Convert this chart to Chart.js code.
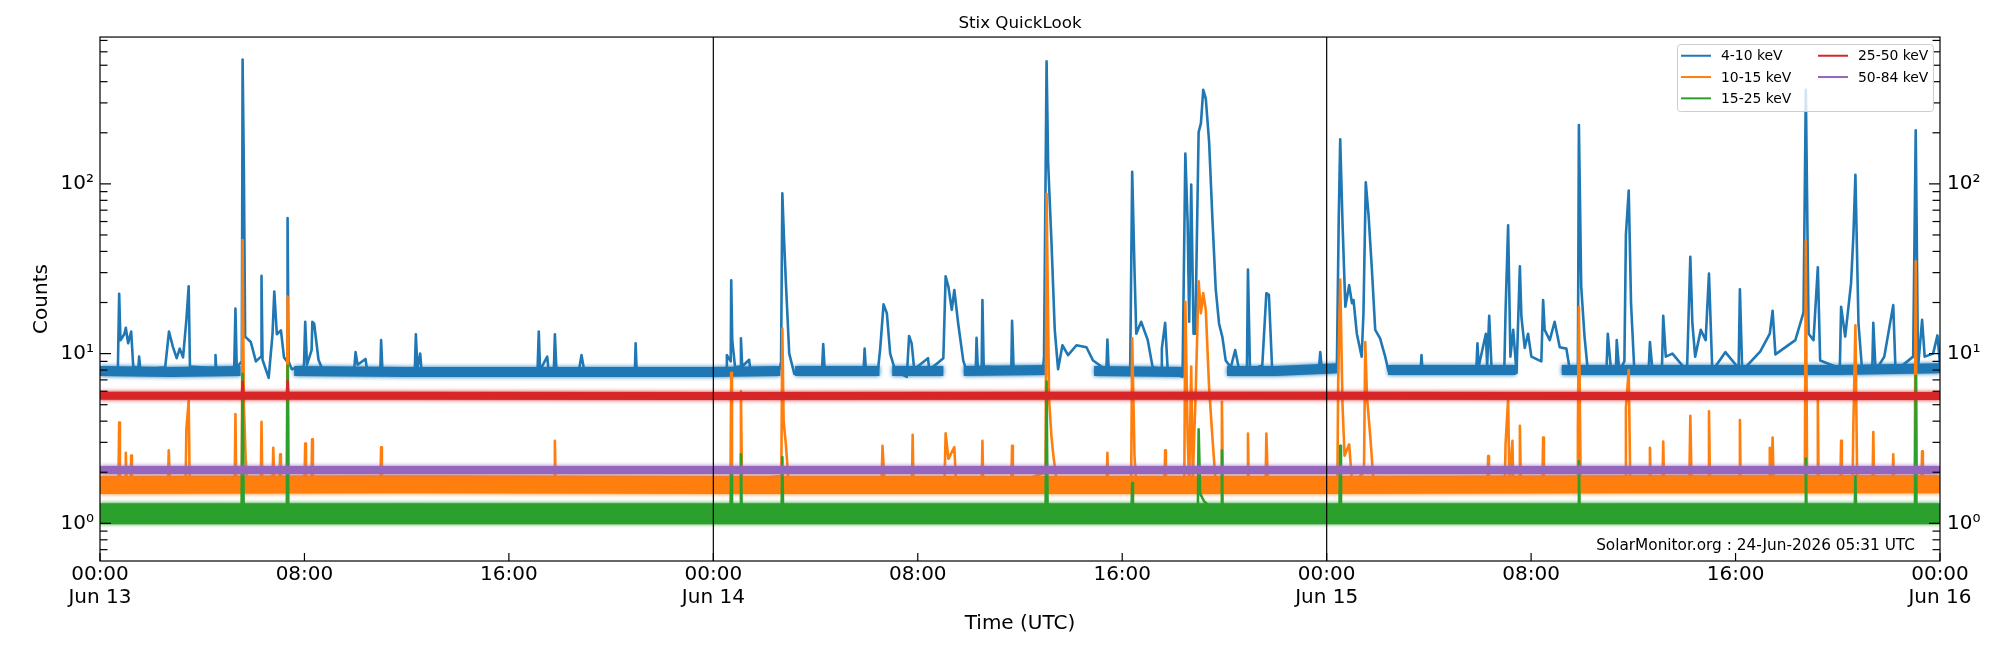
<!DOCTYPE html>
<html>
<head>
<meta charset="utf-8">
<title>Stix QuickLook</title>
<script src="https://cdn.jsdelivr.net/npm/chart.js@4.4.1/dist/chart.umd.min.js"></script>
<style>
  html, body { margin: 0; padding: 0; background: #fff; }
  #wrap { position: relative; width: 2000px; height: 650px; }
</style>
</head>
<body>
<div id="wrap"><canvas id="c" width="2000" height="650"></canvas></div>
<script>
// Stix QuickLook — counts per energy band, Jun 13 00:00 to Jun 16 00:00 (hours from start)

// axis ticks / labels
const xTickHours = [0, 8, 16, 24, 32, 40, 48, 56, 64, 72];
const xTickLabels = [['00:00', 'Jun 13'], '08:00', '16:00', ['00:00', 'Jun 14'], '08:00', '16:00',
                     ['00:00', 'Jun 15'], '08:00', '16:00', ['00:00', 'Jun 16']];
const dayLines = [24, 48];
const yTickValues = [1, 10, 100];
const yTickLabels = ['10\u2070', '10\u00B9', '10\u00B2'];
const yMin = 0.633, yMax = 733;

// 4-10 keV
const hours410 = [
  0.00, 0.70, 0.75, 0.80, 0.95, 1.01, 1.10, 1.22, 1.30, 1.50, 1.53, 1.58,
  2.55, 2.70, 2.85, 3.00, 3.12, 3.25, 3.38, 3.47, 3.52, 4.50, 4.52, 4.55,
  5.25, 5.30, 5.35, 5.55, 5.58, 5.63, 5.68, 5.90, 6.10, 6.30, 6.32, 6.36,
  6.60, 6.75, 6.82, 6.92, 7.08, 7.20, 7.32, 7.34, 7.38, 7.50, 7.98, 8.03,
  8.10, 8.28, 8.31, 8.38, 8.55, 8.70, 9.95, 10.00, 10.08, 10.39, 10.45,
  10.97, 11.00, 11.05, 12.32, 12.36, 12.42, 12.53, 12.58,
  17.12, 17.17, 17.22, 17.50, 17.55, 17.76, 17.80, 17.86, 18.75, 18.84, 18.95,
  20.93, 20.96, 21.00, 24.50, 24.53, 24.68, 24.70, 24.74, 24.85, 25.05, 25.08, 25.13,
  25.40, 25.45, 26.60, 26.65, 26.70, 26.76, 26.84, 26.97, 27.17, 28.25, 28.30, 28.36,
  29.88, 29.92, 29.97, 30.45, 30.53, 30.66, 30.79, 30.92, 31.12, 31.57, 31.66, 31.76,
  31.86, 32.40, 32.45, 33.00, 33.09, 33.20, 33.33, 33.43, 33.58, 33.78, 33.90,
  34.27, 34.30, 34.35, 34.50, 34.53, 34.58, 35.66, 35.69, 35.75,
  36.90, 36.94, 37.04, 37.10, 37.23, 37.36, 37.49, 37.66, 37.88, 38.21, 38.60, 38.86,
  39.38, 39.42, 39.47, 40.31, 40.39, 40.48, 40.55, 40.74, 41.00, 41.19,
  41.52, 41.55, 41.68, 41.78, 42.36, 42.47, 42.56, 42.62, 42.70, 42.79, 42.86,
  42.99, 43.08, 43.17, 43.27, 43.40, 43.53, 43.66, 43.79, 43.92, 44.05, 44.25, 44.42, 44.57,
  44.88, 44.92, 45.00, 45.48, 45.64, 45.74, 45.87, 47.70, 47.75, 47.80,
  48.40, 48.47, 48.53, 48.62, 48.73, 48.88, 48.99, 49.05, 49.18, 49.37, 49.44,
  49.53, 49.64, 49.77, 49.90, 50.09, 50.29, 50.42, 51.68, 51.71, 51.75,
  53.86, 53.90, 53.95, 54.23, 54.28, 54.36, 54.45, 54.95, 55.00, 55.10, 55.19,
  55.30, 55.43, 55.56, 55.62, 55.75, 55.88, 56.01, 56.40, 56.47, 56.53, 56.73,
  56.92, 57.12, 57.38, 57.51, 57.83, 57.87, 57.96, 58.09, 58.22,
  58.95, 59.00, 59.13, 59.32, 59.35, 59.45, 59.65, 59.71, 59.82, 59.91, 60.04,
  60.60, 60.65, 60.75, 61.12, 61.17, 61.27, 61.53, 62.10, 62.23, 62.31, 62.42,
  62.64, 62.83, 62.96, 63.09, 63.60, 64.12, 64.17, 64.26, 64.97, 65.34, 65.45, 65.56,
  66.34, 66.66, 66.75, 66.86, 67.05, 67.22, 67.31, 68.08, 68.13, 68.29, 68.52,
  68.61, 68.69, 68.81, 68.94, 69.35, 69.39, 69.48, 69.82, 70.17, 70.26,
  70.95, 71.05, 71.14, 71.30, 71.40, 71.73, 71.90, 72.00
];
const counts410 = [
  8.0, 8.2, 22.5, 12.0, 13.0, 14.2, 11.5, 13.5, 8.4, 8.2, 9.6, 8.0,
  8.3, 13.5, 11.0, 9.4, 10.7, 9.5, 15.8, 24.9, 8.4, 8.2, 9.8, 8.0,
  8.1, 18.4, 8.3, 9.0, 540, 120, 12.6, 11.7, 9.0, 9.6, 28.7, 9.2,
  7.2, 13.0, 23.2, 13.0, 13.7, 9.5, 9.0, 63, 9.0, 8.1, 8.4, 15.4,
  8.6, 10.5, 15.4, 15.0, 9.2, 8.1, 8.2, 10.2, 8.6, 9.3, 8.0,
  8.1, 12.0, 8.0, 8.1, 13.0, 8.2, 10.0, 8.0,
  7.9, 13.5, 8.0, 9.6, 8.0, 8.1, 13.0, 8.0, 8.1, 9.8, 7.9,
  8.0, 11.5, 7.9, 8.0, 9.8, 9.0, 27.0, 12.0, 8.3, 8.4, 12.3, 8.4,
  9.2, 8.0, 8.1, 9.0, 88, 50, 26, 10, 7.6, 7.9, 11.4, 7.9,
  8.0, 10.7, 8.0, 8.2, 10.7, 19.5, 17.3, 10.0, 7.9, 7.3, 12.7, 11.5,
  8.1, 9.4, 8.0, 9.4, 28.5, 24.7, 18.1, 23.7, 15.1, 9.1, 8.0,
  8.1, 12.4, 8.2, 8.3, 20.7, 8.4, 8.2, 15.6, 8.1,
  8.0, 9.6, 528, 134, 46, 13.8, 8.1, 11.2, 9.8, 11.2, 10.9, 9.1,
  8.0, 12.1, 8.0, 7.8, 118, 31.3, 13.1, 15.4, 12.0, 8.3,
  8.1, 10.7, 15.2, 8.0, 7.3, 151, 59, 15.4, 99, 13.1, 13.1,
  202, 227, 358, 318, 177, 62, 23.8, 15.0, 12.5, 9.1, 8.3, 10.5, 8.1,
  8.1, 31.3, 8.0, 8.5, 22.7, 22.2, 7.9, 8.3, 10.2, 8.4,
  8.4, 59, 183, 59, 18.9, 25.3, 19.8, 20.7, 13.1, 9.6, 17.3,
  102, 65, 31.3, 13.8, 12.3, 9.6, 7.9, 8.1, 9.8, 8.0,
  8.3, 11.5, 8.4, 13.1, 8.4, 16.7, 8.3, 8.0, 17.7, 57.1, 9.6,
  13.8, 7.7, 32.7, 16.5, 10.8, 13.1, 9.6, 9.0, 20.7, 13.8, 12.0,
  15.4, 10.9, 10.7, 8.1, 7.9, 222, 24.9, 12.6, 7.9,
  8.1, 13.1, 7.9, 8.1, 12.0, 7.9, 9.0, 50.5, 91.3, 19.8, 7.9,
  8.1, 11.7, 7.9, 8.2, 16.7, 9.6, 10.0, 7.9, 37.2, 15.1, 9.6,
  13.8, 12.0, 29.6, 7.9, 10.2, 8.2, 23.9, 7.9, 10.3, 13.1, 17.9, 9.9,
  12.0, 17.5, 358, 13.1, 12.0, 32.3, 9.1, 8.2, 18.9, 12.6, 26,
  49.2, 113, 15.1, 8.4, 8.1, 15.2, 7.9, 9.6, 19.3, 7.9,
  9.6, 207, 8.3, 15.8, 9.6, 10.0, 12.8, 8.6
];

// 10-15 keV
const hours1015 = [
  0, 0.72, 0.75, 0.78, 0.99, 1.01, 1.04, 1.20, 1.22, 1.25, 2.66, 2.69, 2.74,
  3.35, 3.38, 3.47, 3.51, 5.27, 5.30, 5.33, 5.55, 5.58, 5.63, 5.70, 5.76,
  6.29, 6.32, 6.35, 6.75, 6.78, 6.82, 7.02, 7.05, 7.08, 7.31, 7.34, 7.38,
  8.00, 8.03, 8.06, 8.27, 8.30, 8.33, 10.97, 11.00, 11.03, 17.77, 17.80, 17.83,
  24.67, 24.70, 24.73, 25.05, 25.08, 25.12, 26.66, 26.70, 26.75, 26.84, 26.95,
  30.58, 30.62, 30.70, 31.77, 31.80, 31.83, 33.05, 33.09, 33.20, 33.43, 33.50,
  34.50, 34.53, 34.56, 35.66, 35.69, 35.72, 37.00, 37.04, 37.14, 37.23, 37.30, 37.45,
  39.39, 39.42, 39.45, 40.35, 40.39, 40.48, 40.55, 41.65, 41.68, 41.71,
  42.43, 42.47, 42.56, 42.62, 42.70, 42.76, 42.88, 42.99, 43.08, 43.17, 43.27, 43.40, 43.53, 43.66,
  43.87, 43.90, 43.94, 44.89, 44.92, 44.95, 45.61, 45.64, 45.70,
  48.42, 48.45, 48.53, 48.62, 48.70, 48.88, 49.00, 49.46, 49.51, 49.58, 49.71, 49.84,
  54.29, 54.32, 54.35, 54.97, 55.00, 55.10, 55.15, 55.27, 55.30, 55.53, 55.56, 55.60,
  56.44, 56.47, 56.50, 57.80, 57.83, 57.87, 57.94, 59.68, 59.71, 59.82, 59.88,
  60.62, 60.65, 60.68, 61.14, 61.17, 61.20, 62.19, 62.23, 62.28, 62.93, 62.96, 63.00,
  64.14, 64.17, 64.20, 65.31, 65.34, 65.40, 65.45, 65.49, 66.71, 66.75, 66.80,
  67.19, 67.22, 67.25, 68.10, 68.13, 68.16, 68.58, 68.61, 68.69, 68.76,
  69.36, 69.39, 69.42, 70.14, 70.17, 70.20, 71.01, 71.05, 71.09, 71.27, 71.30, 71.33, 72
];
const counts1015 = [
  1.68, 1.68, 3.93, 1.68, 1.7, 2.6, 1.7, 1.7, 2.51, 1.7, 1.7, 2.69, 1.7,
  1.7, 3.58, 5.28, 1.7, 1.7, 4.4, 1.7, 1.9, 46.7, 5.0, 2.4, 1.7,
  1.7, 3.96, 1.7, 1.7, 2.79, 1.7, 1.7, 2.55, 1.7, 1.8, 21.7, 1.8,
  1.7, 2.95, 1.7, 1.7, 3.13, 1.7, 1.7, 2.81, 1.7, 1.7, 3.06, 1.7,
  1.8, 7.7, 1.8, 1.8, 6.0, 1.8, 1.9, 14.1, 4.0, 2.9, 1.7,
  1.7, 2.86, 1.7, 1.7, 3.32, 1.7, 1.8, 3.39, 2.4, 2.81, 1.7,
  1.7, 3.06, 1.7, 1.7, 2.86, 1.7, 2.0, 87.3, 5.3, 3.27, 2.55, 1.7,
  1.7, 2.6, 1.7, 1.8, 12.3, 2.5, 1.7, 1.7, 2.69, 1.7,
  1.8, 20.2, 3.2, 1.7, 8.4, 1.8, 6.3, 26.7, 17.3, 22.7, 18.1, 6.3, 3.2, 1.7,
  1.7, 5.2, 1.7, 1.7, 3.38, 1.7, 1.7, 3.38, 1.7,
  1.8, 6.8, 27.3, 5.0, 2.5, 2.92, 1.7, 2.0, 11.7, 5.5, 3.2, 1.7,
  1.7, 2.49, 1.7, 1.7, 2.92, 5.4, 1.7, 3.06, 1.7, 1.7, 3.75, 1.7,
  1.7, 3.2, 1.7, 1.8, 3.6, 18.8, 1.7, 1.8, 4.8, 8.0, 1.7,
  1.7, 2.79, 1.7, 1.7, 3.03, 1.7, 1.7, 4.3, 1.7, 1.7, 4.57, 1.7,
  1.7, 4.06, 1.7, 1.7, 2.79, 1.8, 3.2, 1.7, 1.8, 46, 1.7,
  1.7, 5.4, 1.7, 1.7, 3.06, 1.7, 1.8, 3.8, 14.7, 1.7,
  1.7, 3.45, 1.7, 1.7, 2.55, 1.7, 1.8, 35.0, 1.7, 1.7, 2.66, 1.7, 1.7
];

// 15-25 keV
const hours1525 = [0, 5.54, 5.58, 5.62, 5.70, 7.31, 7.34, 7.37, 24.67, 24.70, 24.73,
  25.05, 25.08, 25.11, 26.67, 26.70, 26.73, 37.00, 37.04, 37.08, 40.36, 40.39, 40.42,
  42.96, 42.99, 43.05, 43.20, 43.45, 43.70, 43.87, 43.90, 43.93, 48.50, 48.53, 48.56,
  57.84, 57.87, 57.90, 66.72, 66.75, 66.78, 68.66, 68.69, 68.72, 71.02, 71.05, 71.08, 72];
const counts1525 = [1.14, 1.2, 7.6, 1.3, 1.14, 1.2, 8.5, 1.14, 1.14, 2.1, 1.14,
  1.14, 2.55, 1.14, 1.14, 2.46, 1.14, 1.2, 6.85, 1.2, 1.14, 1.73, 1.14,
  1.2, 3.58, 1.5, 1.35, 1.25, 1.14, 1.14, 2.69, 1.14, 1.14, 2.86, 1.14,
  1.14, 2.32, 1.14, 1.14, 2.41, 1.14, 1.14, 1.89, 1.14, 1.2, 7.4, 1.14, 1.14];

// 25-50 keV
const hours2550 = [0, 5.55, 5.58, 5.62, 7.31, 7.34, 7.37, 72];
const counts2550 = [5.65, 5.65, 6.8, 5.65, 5.65, 6.9, 5.65, 5.6];

// 50-84 keV
const hours5084 = [0, 72];
const counts5084 = [2.06, 2.06];

// background noise level of each band (drawn as a thick, soft-edged stroke)
const noiseHours = [0, 12, 24, 36, 48, 60, 72];
const noise1015 = [1.68, 1.70, 1.68, 1.68, 1.68, 1.70, 1.70];
const noise1525 = [1.14, 1.14, 1.14, 1.14, 1.14, 1.14, 1.14];
const noise2550 = [5.65, 5.65, 5.62, 5.65, 5.65, 5.62, 5.62];
const noise5084 = [2.06, 2.06, 2.06, 2.06, 2.06, 2.06, 2.06];
// 4-10 keV quiet level, broken (null) where the flares rise above it
const noiseHours410 = [0, 2.75, 5.5, 6.5, 7.6, 12, 18, 24, 26.62, 26.9, 27.2, 30.5, 30.75, 31.0,
  33.0, 33.4, 33.8, 37.0, 38.0, 38.9, 42.4, 43.2, 44.1, 46, 48.45, 49.4, 50.4, 53, 55.4,
  56.3, 57.2, 60, 64, 68, 72];
const noise410 = [7.9, 7.8, 7.9, null, 7.9, 7.8, 7.8, 7.8, 7.9, null, 7.9, 7.9, null, 7.9,
  7.9, null, 7.9, 8.0, null, 7.9, 7.8, null, 7.9, 7.9, 8.2, null, 8.0, 8.0, 8.0,
  null, 8.0, 8.0, 8.0, 8.0, 8.2];

[[hours410, counts410], [hours1015, counts1015], [hours1525, counts1525], [noiseHours410, noise410]]
  .forEach(([h, c], i) => { if (h.length !== c.length) throw new Error('length mismatch ' + i + ': ' + h.length + ' vs ' + c.length); });

const toPoints = (hours, counts) => hours.map((h, i) => ({ x: h, y: counts[i] }));

function signal(label, hours, counts, color, order) {
  return { label, data: toPoints(hours, counts), borderColor: color, backgroundColor: color,
    borderWidth: 2.6, borderJoinStyle: 'round', pointRadius: 0, tension: 0, order };
}
function noise(hours, level, color, width, order) {
  return { label: '', noise: true, data: toPoints(hours, level), borderColor: color,
    borderWidth: width, borderCapStyle: 'butt', pointRadius: 0, spanGaps: false, order };
}

const C_BLUE = '#1f77b4', C_ORANGE = '#ff7f0e', C_GREEN = '#2ca02c', C_RED = '#d62728', C_PURPLE = '#9467bd';

// frame, inward ticks and day separators (matplotlib look)
const axesDecor = {
  id: 'axesDecor',
  beforeDatasetDraw(chart, args) {
    const ds = chart.data.datasets[args.index];
    if (ds.noise) {
      // soft edge so the noise bands look ragged rather than ruled
      chart.ctx.save();
      chart.ctx.shadowColor = ds.borderColor;
      chart.ctx.shadowBlur = 4;
    }
  },
  afterDatasetDraw(chart, args) {
    if (chart.data.datasets[args.index].noise) chart.ctx.restore();
  },
  afterDatasetsDraw(chart) {
    const { ctx, chartArea: a, scales: { x, y } } = chart;
    ctx.save();
    ctx.strokeStyle = '#000';
    ctx.lineWidth = 1.2;
    const seg = (x1, y1, x2, y2) => { ctx.beginPath(); ctx.moveTo(x1, y1); ctx.lineTo(x2, y2); ctx.stroke(); };
    dayLines.forEach(h => { const px = x.getPixelForValue(h); seg(px, a.top, px, a.bottom); });
    xTickHours.forEach(h => { const px = x.getPixelForValue(h); seg(px, a.bottom, px, a.bottom - 8); });
    for (let d = 0.1; d <= 1000; d *= 10) {
      for (let m = 1; m < 10; m++) {
        const v = m * d;
        if (v < yMin || v > yMax) continue;
        const py = y.getPixelForValue(v);
        const len = m === 1 ? 11 : 7.5;
        seg(a.left, py, a.left + len, py);
        seg(a.right, py, a.right - len, py);
      }
    }
    ctx.strokeRect(a.left, a.top, a.right - a.left, a.bottom - a.top);
    ctx.restore();
  },
  afterDraw(chart) {
    const { ctx, chartArea: a } = chart;
    ctx.save();
    // legend, two columns filled top-down like matplotlib ncol=2
    const items = chart.data.datasets.filter(d => !d.noise);
    const bx = a.right - 263, by = a.top + 7, bw = 256, bh = 67;
    ctx.fillStyle = 'rgba(255,255,255,0.8)';
    ctx.strokeStyle = '#cccccc';
    ctx.lineWidth = 1;
    ctx.beginPath();
    ctx.roundRect(bx + 0.5, by + 0.5, bw, bh, 3);
    ctx.fill();
    ctx.stroke();
    ctx.font = '13.9px "DejaVu Sans"';
    ctx.textBaseline = 'middle';
    ctx.textAlign = 'left';
    items.forEach((d, i) => {
      const col = Math.floor(i / 3), row = i % 3;
      const hx = bx + 4 + col * 137, ty = by + 11.7 + row * 21.3;
      ctx.strokeStyle = d.borderColor;
      ctx.lineWidth = 2;
      ctx.beginPath(); ctx.moveTo(hx, ty); ctx.lineTo(hx + 30, ty); ctx.stroke();
      ctx.fillStyle = '#000';
      ctx.fillText(d.label, hx + 40, ty + 1);
    });
    // footer stamp
    ctx.font = '15.3px "DejaVu Sans"';
    ctx.textAlign = 'right';
    ctx.textBaseline = 'alphabetic';
    ctx.fillStyle = '#000';
    ctx.fillText('SolarMonitor.org : 24-Jun-2026 05:31 UTC', a.right - 25, a.bottom - 11);
    ctx.restore();
  }
};

Chart.defaults.font.family = '"DejaVu Sans", sans-serif';
Chart.defaults.color = '#000';

const yAxis = (position, width, pad, showTitle) => ({
  type: 'logarithmic', position, min: yMin, max: yMax,
  afterBuildTicks: s => { s.ticks = yTickValues.map(v => ({ value: v, major: true })); },
  afterFit: s => { s.width = width; },
  ticks: { callback: (v, i) => yTickLabels[i], font: { size: 20 }, padding: pad, autoSkip: false },
  grid: { display: false, drawTicks: false },
  border: { display: false },
  title: { display: showTitle, text: 'Counts', font: { size: 20 }, padding: { top: 30, bottom: 0 } }
});

new Chart(document.getElementById('c'), {
  type: 'line',
  data: {
    datasets: [
      noise(noiseHours410, noise410, C_BLUE, 10, 10),
      signal('4-10 keV', hours410, counts410, C_BLUE, 9),
      noise(noiseHours, noise1015, C_ORANGE, 18, 8),
      signal('10-15 keV', hours1015, counts1015, C_ORANGE, 7),
      noise(noiseHours, noise1525, C_GREEN, 21, 6),
      signal('15-25 keV', hours1525, counts1525, C_GREEN, 5),
      noise(noiseHours, noise2550, C_RED, 8, 4),
      signal('25-50 keV', hours2550, counts2550, C_RED, 3),
      noise(noiseHours, noise5084, C_PURPLE, 8, 2),
      signal('50-84 keV', hours5084, counts5084, C_PURPLE, 1)
    ]
  },
  options: {
    responsive: false,
    animation: false,
    devicePixelRatio: 1,
    events: [],
    layout: { padding: 0 },
    plugins: {
      legend: { display: false },
      tooltip: { enabled: false },
      title: { display: true, text: 'Stix QuickLook', fullSize: false, color: '#000',
               font: { size: 16.7, weight: 'normal' }, padding: { top: 14, bottom: 3 } }
    },
    scales: {
      x: {
        type: 'linear', position: 'bottom', min: 0, max: 72,
        afterBuildTicks: s => { s.ticks = xTickHours.map(v => ({ value: v })); },
        afterFit: s => { s.height = 89; },
        ticks: { callback: (v, i) => xTickLabels[i], font: { size: 20, lineHeight: 1.15 },
                 maxRotation: 0, autoSkip: false, padding: 2 },
        grid: { display: false, drawTicks: false },
        border: { display: false },
        title: { display: true, text: 'Time (UTC)', font: { size: 20 }, padding: { top: 0, bottom: 14 } }
      },
      y: yAxis('left', 100, 6, true),
      y2: yAxis('right', 60, 7, false)
    }
  },
  plugins: [axesDecor]
});
</script>
</body>
</html>
